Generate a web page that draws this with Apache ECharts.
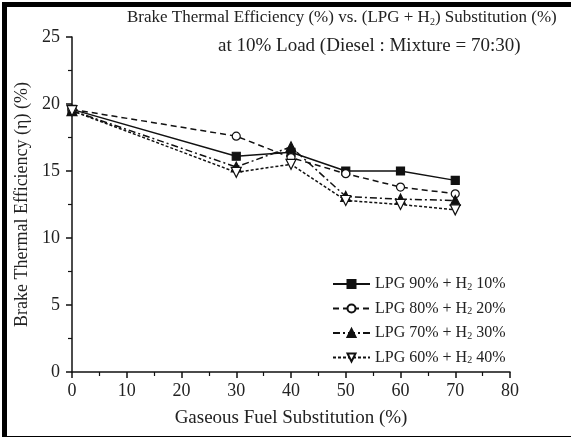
<!DOCTYPE html>
<html>
<head>
<meta charset="utf-8">
<script src="https://cdn.jsdelivr.net/npm/echarts@6/dist/echarts.min.js"></script>
<style>
  body { margin: 0; background: #fff; }
  #chart { width: 571px; height: 437px; position: absolute; left: 0; top: 0; }
  #frame {
    position: absolute; left: 2px; top: 2px; width: 600px; height: 429px;
    border: 5px solid #000; pointer-events: none;
  }
</style>
</head>
<body>
<div id="chart"></div>
<div id="frame"></div>
<script>
// gaseous fuel substitution (%)
const substitution = [0, 30, 40, 50, 60, 70]
const legendNames = ['LPG 90% + H2 10%', 'LPG 80% + H2 20%', 'LPG 70% + H2 30%', 'LPG 60% + H2 40%']
// brake thermal efficiency (%)
const lpg90 = [19.6, 16.1, 16.4, 15.0, 15.0, 14.3]
const lpg80 = [19.6, 17.6, 16.0, 14.8, 13.8, 13.3]
const lpg70 = [19.5, 15.3, 16.8, 13.1, 12.9, 12.8]
const lpg60 = [19.5, 14.9, 15.5, 12.8, 12.5, 12.1]

const serif = 'Liberation Serif'
const ink = '#222'
const pairs = d => substitution.map((x, i) => [x, d[i]])

const chart = echarts.init(document.getElementById('chart'))

function mkSeries(name, data, symbol, fill, dash, rotate) {
  return {
    name: name,
    type: 'line',
    data: pairs(data),
    symbol: symbol,
    symbolSize: symbol === 'triangle' ? 10 : 8,
    symbolRotate: rotate || 0,
    lineStyle: { color: '#111', width: 1.5, type: dash },
    itemStyle: { color: fill, borderColor: '#111', borderWidth: 1.2 },
    z: 3
  }
}

chart.setOption({
  animation: false,
  backgroundColor: '#fff',
  title: [
    {
      text: '{a|Brake Thermal Efficiency (%) vs. (LPG + H}{s|2}{a|) Substitution (%)}',
      left: 122, top: 4,
      textStyle: {
        rich: {
          a: { fontFamily: serif, fontSize: 17, fontWeight: 'normal', color: ink, lineHeight: 18 },
          s: { fontFamily: serif, fontSize: 10, fontWeight: 'normal', color: ink, lineHeight: 10, padding: [8, 0, 0, 0] }
        }
      }
    },
    {
      text: 'at 10% Load (Diesel : Mixture = 70:30)',
      left: 213, top: 32,
      textStyle: { fontFamily: serif, fontSize: 19, fontWeight: 'normal', color: ink }
    }
  ],
  grid: { left: 72, right: 61, top: 37, bottom: 65 },
  legend: {
    orient: 'vertical',
    left: 327, top: 271,
    itemWidth: 37, itemHeight: 10, itemGap: 8.5,
    data: legendNames,
    formatter: function (n) {
      const m = n.match(/^(LPG \d+% \+ H)2( \d+%)$/)
      return '{a|' + m[1] + '}{s|2}{a|' + m[2] + '}'
    },
    textStyle: {
      rich: {
        a: { fontFamily: serif, fontSize: 16, color: ink, lineHeight: 16 },
        s: { fontFamily: serif, fontSize: 10, color: ink, lineHeight: 10, padding: [6, 0, 0, 0] }
      }
    }
  },
  xAxis: {
    type: 'value', min: 0, max: 80, interval: 10,
    name: 'Gaseous Fuel Substitution (%)',
    nameLocation: 'middle', nameGap: 37,
    nameTextStyle: { fontFamily: serif, fontSize: 19, color: ink },
    axisLine: { onZero: false, lineStyle: { color: '#111', width: 1.5 } },
    axisTick: { show: true, length: 6, lineStyle: { color: '#111', width: 1.5 } },
    minorTick: { show: true, splitNumber: 2, length: 4, lineStyle: { color: '#111', width: 1.2 } },
    splitLine: { show: false },
    axisLabel: { fontFamily: serif, fontSize: 18, color: ink, margin: 10 }
  },
  yAxis: {
    type: 'value', min: 0, max: 25, interval: 5,
    name: 'Brake Thermal Efficiency (η) (%)',
    nameLocation: 'middle', nameGap: 41,
    nameTextStyle: { fontFamily: serif, fontSize: 18, color: ink },
    axisLine: { show: true, onZero: false, lineStyle: { color: '#111', width: 1.5 } },
    axisTick: { show: true, length: 6, lineStyle: { color: '#111', width: 1.5 } },
    minorTick: { show: true, splitNumber: 2, length: 4, lineStyle: { color: '#111', width: 1.2 } },
    splitLine: { show: false },
    axisLabel: { fontFamily: serif, fontSize: 18, color: ink, margin: 12 }
  },
  series: [
    mkSeries(legendNames[0], lpg90, 'rect', '#111', 'solid'),
    mkSeries(legendNames[1], lpg80, 'circle', '#fff', [6, 4]),
    mkSeries(legendNames[2], lpg70, 'triangle', '#111', [7, 3, 2, 3]),
    mkSeries(legendNames[3], lpg60, 'triangle', '#fff', [3, 2], 180)
  ]
})
</script>
</body>
</html>
